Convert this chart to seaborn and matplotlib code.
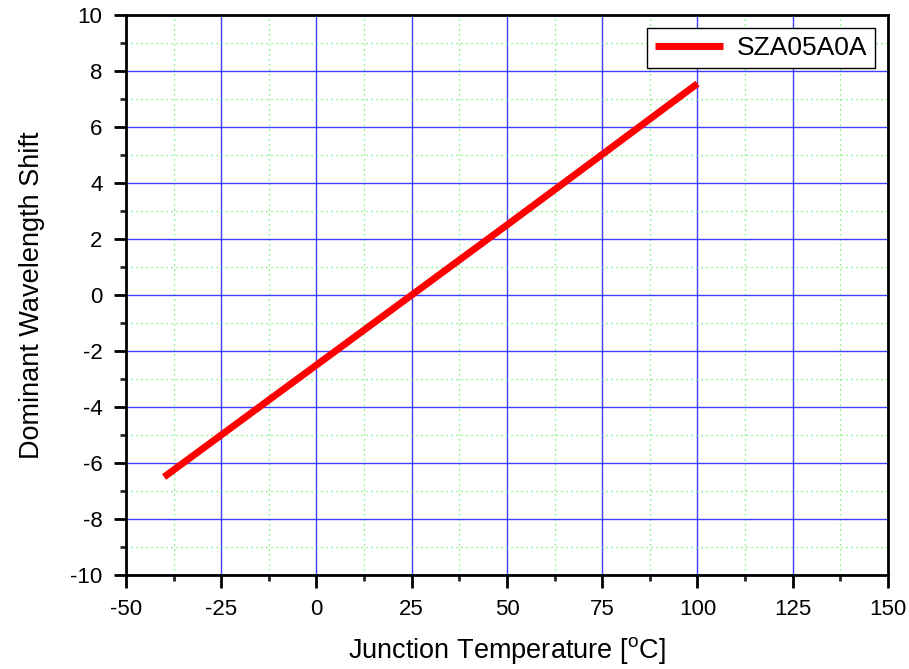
import matplotlib
matplotlib.use("Agg")
import matplotlib.pyplot as plt
import pandas as pd
import seaborn as sns
from matplotlib.ticker import MultipleLocator

# Data
temperature = [-40, 0, 25, 50, 75, 100]
wavelength_shift = [-6.5, -2.5, 0.0, 2.5, 5.02, 7.55]
series_name = "SZA05A0A"

df = pd.DataFrame({"temp": temperature, "shift": wavelength_shift, "part": series_name})

sns.set_style("white")
plt.rcParams['font.family'] = ['Liberation Sans', 'DejaVu Sans']
plt.rcParams['axes.unicode_minus'] = False
plt.rcParams['text.color'] = 'black'
plt.rcParams['axes.labelcolor'] = 'black'
plt.rcParams['lines.solid_capstyle'] = 'butt'

fig = plt.figure(figsize=(9.09, 6.69), dpi=100)
ax = fig.add_axes([0.1386, 0.1405, 0.8383, 0.8371])

sns.lineplot(data=df, x="temp", y="shift", hue="part", palette=["#ff0000"],
             linewidth=5, ax=ax, zorder=3)

ax.set_xlim(-50, 150)
ax.set_ylim(-10, 10)
ax.xaxis.set_major_locator(MultipleLocator(25))
ax.xaxis.set_minor_locator(MultipleLocator(12.5))
ax.yaxis.set_major_locator(MultipleLocator(2))
ax.yaxis.set_minor_locator(MultipleLocator(1))

ax.grid(which="major", color="#2a2aff", linewidth=1.0, alpha=0.9)
ax.grid(which="minor", color="#55ee55", linewidth=0.9, linestyle=(0, (1, 3)))
ax.set_axisbelow(True)

for s in ax.spines.values():
    s.set_color("black")
    s.set_linewidth(2)

ax.tick_params(which="major", direction="out", length=9, width=2, labelsize=16,
               colors="black", pad=8, left=True, bottom=True)
ax.tick_params(which="minor", direction="out", length=4.5, width=2,
               left=True, bottom=True)

ax.set_xlabel("Junction Temperature [$^{\\mathregular{o}}$C]", fontsize=19.5, labelpad=11)
ax.set_ylabel("Dominant Wavelength Shift", fontsize=19.5, labelpad=18)

leg = ax.legend(loc="upper right", fontsize=19, frameon=True, fancybox=False,
                handlelength=2.6, handletextpad=0.5, borderaxespad=0.5,
                borderpad=0.3)
leg.get_frame().set_edgecolor("black")
leg.get_frame().set_linewidth(1)
leg.get_frame().set_alpha(1)

fig.savefig("out.png", dpi=100)
